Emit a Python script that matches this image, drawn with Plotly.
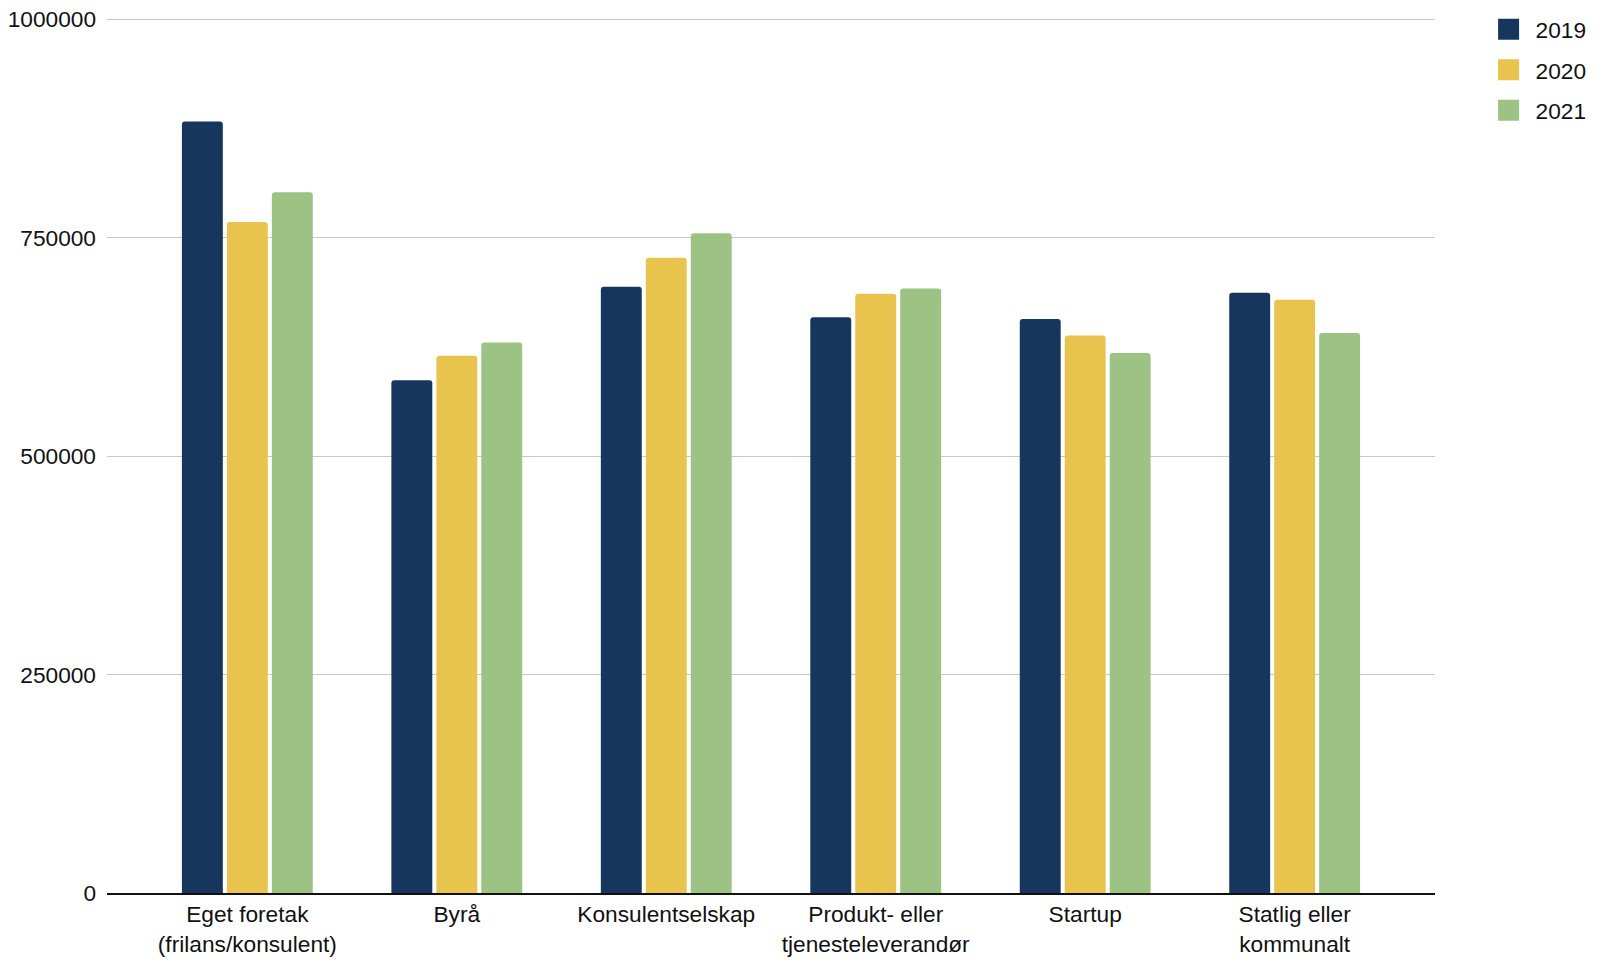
import plotly.graph_objects as go

# Lønn per type arbeidsgiver, 2019-2021
kategorier = [
    "Eget foretak<br>(frilans/konsulent)",
    "Byrå",
    "Konsulentselskap",
    "Produkt- eller<br>tjenesteleverandør",
    "Startup",
    "Statlig eller<br>kommunalt",
]
aar = ["2019", "2020", "2021"]
lonn_2019 = [883000, 587000, 694000, 659000, 657000, 687000]
lonn_2020 = [768000, 615000, 727000, 686000, 638000, 679000]
lonn_2021 = [802000, 630000, 755000, 692000, 618000, 641000]
y_ticks = [0, 250000, 500000, 750000, 1000000]

farger = ["#17365d", "#e8c44f", "#9dc384"]
font = "Liberation Sans, Arial, sans-serif"
fsize = 22.7

fig = go.Figure()
for navn, verdier, farge in zip(aar, [lonn_2019, lonn_2020, lonn_2021], farger):
    fig.add_trace(go.Bar(
        x=kategorier,
        y=verdier,
        name=navn,
        marker=dict(color=farge, cornerradius=3, line_width=0),
        showlegend=False,
    ))
    # legend entry with a bigger square
    fig.add_trace(go.Scatter(
        x=[None], y=[None],
        mode="markers",
        name=navn,
        legendgroup=navn,
        marker=dict(symbol="square", size=16, color=farge,
                    line=dict(color=farge, width=6)),
    ))

fig.update_layout(
    width=1600, height=965,
    margin=dict(l=99, r=173, t=10, b=80),
    paper_bgcolor="white",
    plot_bgcolor="white",
    font=dict(family=font, size=fsize, color="#111111"),
    barmode="group",
    bargap=0.356,
    bargroupgap=0.09,
    legend=dict(
        xref="container", yref="container",
        x=0.921, y=1.0, xanchor="left", yanchor="top",
        traceorder="grouped", tracegroupgap=8,
        font=dict(size=fsize, color="#111111"),
        itemwidth=44,
    ),
)
fig.update_xaxes(
    range=[-0.67, 5.67], automargin=False,
    showline=True, linecolor="#111111", linewidth=1.5,
    showgrid=False, ticks="", tickfont=dict(size=fsize),
)
fig.update_yaxes(
    range=[0, 1001500], automargin=False,
    tickvals=y_ticks, ticktext=[str(v) for v in y_ticks],
    showgrid=True, gridcolor="#c8c8c8", gridwidth=1,
    zeroline=False, ticks="", ticklabelstandoff=10,
    ticklabeloverflow="allow",
    tickfont=dict(size=fsize),
)

fig.write_html("out.html")
